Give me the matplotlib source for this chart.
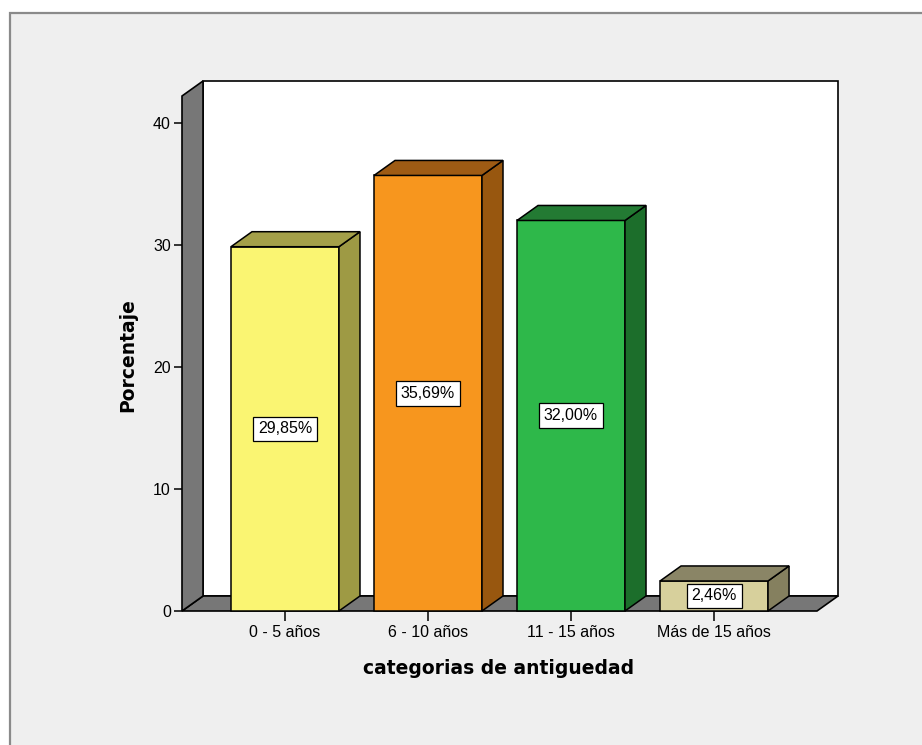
import matplotlib
matplotlib.use("Agg")
import matplotlib.pyplot as plt
from matplotlib.patches import Rectangle, Polygon

plt.rcParams['font.family'] = ['Liberation Sans', 'DejaVu Sans']

categories = ["0 - 5 años", "6 - 10 años", "11 - 15 años", "Más de 15 años"]
values = [29.85, 35.69, 32.00, 2.46]
yticks = [0, 10, 20, 30, 40]
front_colors = ['#faf572', '#f7961e', '#2eb84a', '#d7d09c']
side_colors = ['#9e9a44', '#98570f', '#1c6e2b', '#85805f']
top_colors = ['#a4a049', '#9e5b14', '#237a33', '#8a8566']

fig = plt.figure(figsize=(9.22, 7.45), dpi=100)
fig.patch.set_facecolor('white')
fig.patches.append(Rectangle((10/922, -0.1), 1.2, 0.1 + 732/745, transform=fig.transFigure,
                             facecolor='#efefef', edgecolor='#8a8a8a', lw=1.6, zorder=-10))

ax = fig.add_axes([182/922, 134/745, 635/922, 515/745])
ax.set_zorder(1)
ax.set_facecolor('none')
xl, xr = -0.72, 3.72
ytop = 42.2
ax.set_xlim(xl, xr)
ax.set_ylim(0, ytop)
dx, dy = 0.147, 1.23
wall = '#777777'

# back wall
ax.add_patch(Polygon([(xl+dx, dy), (xr+dx, dy), (xr+dx, ytop+dy), (xl+dx, ytop+dy)], closed=True,
                     facecolor='white', edgecolor='black', lw=1.2, clip_on=False, zorder=1))
# floor
ax.add_patch(Polygon([(xl, 0), (xr, 0), (xr+dx, dy), (xl+dx, dy)], closed=True,
                     facecolor=wall, edgecolor='black', lw=1.2, clip_on=False, zorder=2))
# left wall
ax.add_patch(Polygon([(xl, 0), (xl, ytop), (xl+dx, ytop+dy), (xl+dx, dy)], closed=True,
                     facecolor=wall, edgecolor='black', lw=1.2, clip_on=False, zorder=2))

w = 0.755
for i, v in enumerate(values):
    x0, x1 = i - w/2, i + w/2
    z = 3 + i
    ax.add_patch(Rectangle((x0, 0), w, v, facecolor=front_colors[i], edgecolor='black', lw=1.1,
                           clip_on=False, zorder=z))
    ax.add_patch(Polygon([(x1, 0), (x1, v), (x1+dx, v+dy), (x1+dx, dy)], closed=True,
                         facecolor=side_colors[i], edgecolor='black', lw=1.1, clip_on=False, zorder=z))
    ax.add_patch(Polygon([(x0, v), (x1, v), (x1+dx, v+dy), (x0+dx, v+dy)], closed=True,
                         facecolor=top_colors[i], edgecolor='black', lw=1.1, clip_on=False, zorder=z))
    ax.text(i, v/2, f"{v:.2f}".replace('.', ',') + '%', ha='center', va='center', fontsize=11.5,
            zorder=10, bbox=dict(boxstyle='square,pad=0.3', facecolor='white', edgecolor='black', lw=0.9))

for s in ax.spines.values():
    s.set_visible(False)
ax.set_xticks(range(len(categories)))
ax.set_xticklabels(categories, fontsize=11.5)
ax.set_yticks(yticks)
ax.set_yticklabels([str(t) for t in yticks], fontsize=11.5)
ax.tick_params(axis='x', length=7, width=1.1, pad=3)
ax.tick_params(axis='y', length=6, width=1.1, pad=2)

ax.set_xlabel("categorias de antiguedad", fontsize=13.5, fontweight='bold', family='DejaVu Sans')
ax.xaxis.set_label_coords(0.499, -0.111)
ax.xaxis.label.set_verticalalignment('center')
ax.set_ylabel("Porcentaje", fontsize=13.5, fontweight='bold', family='DejaVu Sans')
ax.yaxis.set_label_coords(-0.085, 0.497)
ax.yaxis.label.set_verticalalignment('center')

fig.savefig("out.png", dpi=100)
